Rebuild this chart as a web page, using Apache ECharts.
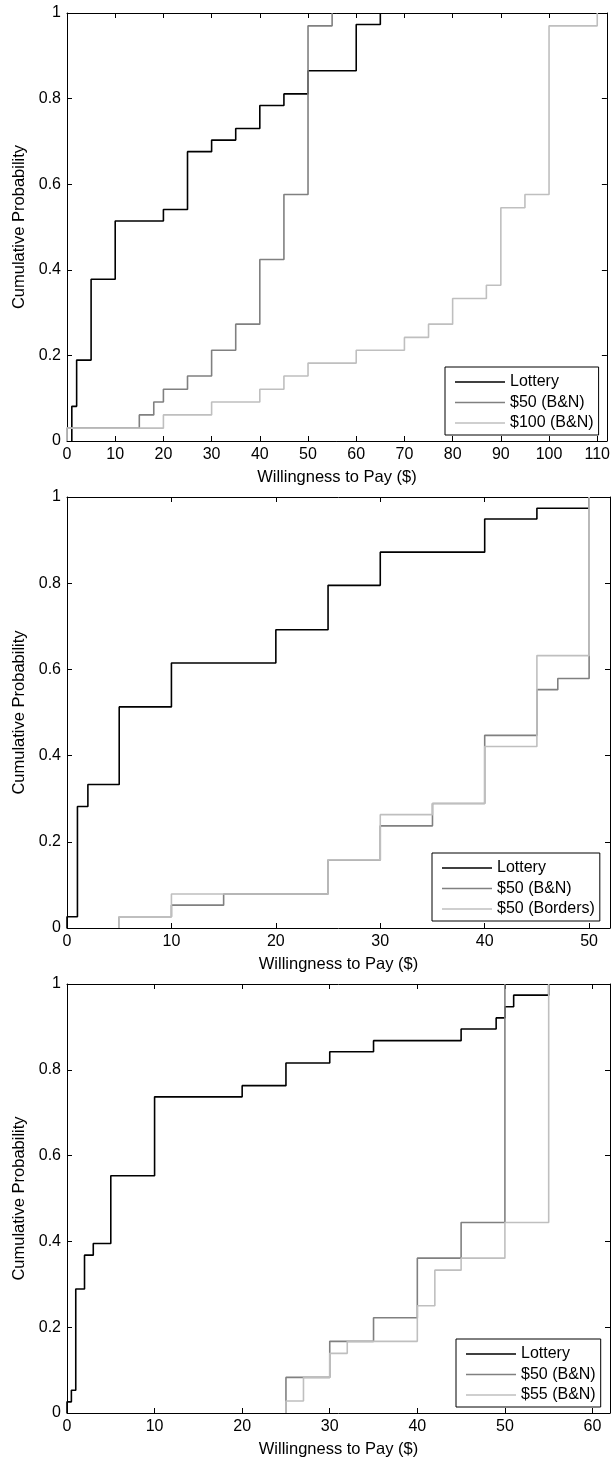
<!DOCTYPE html>
<html>
<head>
<meta charset="utf-8">
<title>Willingness to Pay - ECDF</title>
<script src="https://cdn.jsdelivr.net/npm/echarts@6/dist/echarts.min.js"></script>
<style>
  html, body { margin: 0; padding: 0; background: #fff; }
  #main { width: 613px; height: 1459px; }
</style>
</head>
<body>
<div id="main"></div>
<script>
// panel 1 : Lottery / $50 (B&N) / $100 (B&N)
var p1LotteryX = [1, 2, 5, 10, 20, 25, 30, 35, 40, 45, 50, 60, 65];
var p1LotteryY = [0.081, 0.189, 0.378, 0.514, 0.541, 0.676, 0.703, 0.730, 0.784, 0.811, 0.865, 0.973, 1];
var p1Bn50X = [0, 15, 18, 20, 25, 30, 35, 40, 45, 50, 55];
var p1Bn50Y = [0.030, 0.061, 0.091, 0.121, 0.152, 0.212, 0.273, 0.424, 0.576, 0.970, 1];
var p1Bn100X = [0, 20, 30, 40, 45, 50, 60, 70, 75, 80, 87, 90, 95, 100, 110];
var p1Bn100Y = [0.030, 0.061, 0.091, 0.121, 0.152, 0.182, 0.212, 0.242, 0.273, 0.333, 0.364, 0.545, 0.576, 0.970, 1];

// panel 2 : Lottery / $50 (B&N) / $50 (Borders)
var p2LotteryX = [0, 1, 2, 5, 10, 20, 25, 30, 40, 45, 50];
var p2LotteryY = [0.026, 0.282, 0.333, 0.513, 0.615, 0.692, 0.795, 0.872, 0.949, 0.974, 1];
var p2Bn50X = [5, 10, 15, 25, 30, 35, 40, 45, 47, 50];
var p2Bn50Y = [0.026, 0.053, 0.079, 0.158, 0.237, 0.289, 0.447, 0.553, 0.579, 1];
var p2Borders50X = [5, 10, 25, 30, 35, 40, 45, 50];
var p2Borders50Y = [0.026, 0.079, 0.158, 0.263, 0.289, 0.421, 0.632, 1];

// panel 3 : Lottery / $50 (B&N) / $55 (B&N)
var p3LotteryX = [0, 0.5, 1, 2, 3, 5, 10, 20, 25, 30, 35, 45, 49, 50, 51, 55];
var p3LotteryY = [0.026, 0.053, 0.289, 0.368, 0.395, 0.553, 0.737, 0.763, 0.816, 0.842, 0.868, 0.895, 0.921, 0.947, 0.974, 1];
var p3Bn50X = [25, 30, 35, 40, 45, 50];
var p3Bn50Y = [0.083, 0.167, 0.222, 0.361, 0.444, 1];
var p3Bn55X = [25, 27, 30, 32, 40, 42, 45, 50, 55];
var p3Bn55Y = [0.028, 0.083, 0.139, 0.167, 0.250, 0.333, 0.361, 0.444, 1];

var xMaxes = [112, 52, 62];

var FONT = 'Liberation Sans, Arial, Helvetica, sans-serif';
var BLACK = '#000000', DARK = '#808080', LIGHT = '#bfbfbf';

// ecdf style stairs : starts at (min, 0)
function stairs(xs, ys) {
  var out = [[xs[0], 0]];
  for (var i = 0; i < xs.length; i++) {
    out.push([xs[i], ys[i]]);
  }
  return out;
}

var panels = [
  { top: 13,  height: 428, names: ['Lottery', '$50 (B&N)', '$100 (B&N)'],
    data: [[p1LotteryX, p1LotteryY], [p1Bn50X, p1Bn50Y], [p1Bn100X, p1Bn100Y]],
    legend: { left: 445, top: 367 } },
  { top: 497, height: 431, names: ['Lottery', '$50 (B&N)', '$50 (Borders)'],
    data: [[p2LotteryX, p2LotteryY], [p2Bn50X, p2Bn50Y], [p2Borders50X, p2Borders50Y]],
    legend: { left: 432, top: 853 } },
  { top: 984, height: 431, names: ['Lottery', '$50 (B&N)', '$55 (B&N)'],
    data: [[p3LotteryX, p3LotteryY], [p3Bn50X, p3Bn50Y], [p3Bn55X, p3Bn55Y]],
    legend: { left: 456, top: 1339 } }
];
var colors = [BLACK, DARK, LIGHT];

var grid = [], xAxis = [], yAxis = [], series = [], legend = [];

panels.forEach(function (p, i) {
  grid.push({ left: 67, right: 1, top: p.top, height: p.height });

  var tickStyle = { show: true, inside: true, length: 5, lineStyle: { color: BLACK, width: 1 } };
  var lineStyle = { show: true, onZero: false, lineStyle: { color: BLACK, width: 1 } };

  // bottom axis with labels
  xAxis.push({
    type: 'value', gridIndex: i, position: 'bottom', min: 0, max: xMaxes[i], interval: 10,
    axisLine: lineStyle, axisTick: tickStyle, splitLine: { show: false },
    axisLabel: {
      color: BLACK, fontFamily: FONT, fontSize: 16, margin: 6,
      formatter: function (v) { return v % 10 === 0 ? String(v) : ''; }
    },
    name: 'Willingness to Pay ($)', nameLocation: 'middle', nameGap: 28,
    nameTextStyle: { color: BLACK, fontFamily: FONT, fontSize: 16.5 }
  });
  // top axis, box only
  xAxis.push({
    type: 'value', gridIndex: i, position: 'top', min: 0, max: xMaxes[i], interval: 10,
    axisLine: lineStyle, axisTick: tickStyle, axisLabel: { show: false }, splitLine: { show: false }
  });

  yAxis.push({
    type: 'value', gridIndex: i, position: 'left', min: 0, max: 1, interval: 0.2,
    axisLine: lineStyle, axisTick: tickStyle, splitLine: { show: false },
    axisLabel: { color: BLACK, fontFamily: FONT, fontSize: 16, margin: 6 },
    name: 'Cumulative Probability', nameLocation: 'middle', nameGap: 34,
    nameTextStyle: { color: BLACK, fontFamily: FONT, fontSize: 16.5 }
  });
  yAxis.push({
    type: 'value', gridIndex: i, position: 'right', min: 0, max: 1, interval: 0.2,
    axisLine: lineStyle, axisTick: tickStyle, axisLabel: { show: false }, splitLine: { show: false }
  });

  p.data.forEach(function (d, k) {
    series.push({
      name: p.names[k], type: 'line', step: 'end',
      xAxisIndex: 2 * i, yAxisIndex: 2 * i,
      data: stairs(d[0], d[1]),
      symbol: 'none', color: colors[k],
      lineStyle: { color: colors[k], width: 1.6 },
      z: 2 + k
    });
  });

  // plain line swatch, no marker
  legend.push({
    data: p.names, orient: 'vertical', left: p.legend.left, top: p.legend.top,
    icon: 'path://M0,0L50,0L50,1.6L0,1.6Z', symbolKeepAspect: true,
    itemWidth: 50, itemHeight: 14, itemGap: 4.5, itemTextGap: 5,
    padding: [7, 5, 4, 10], selectedMode: false,
    backgroundColor: '#ffffff', borderColor: BLACK, borderWidth: 1,
    textStyle: { color: BLACK, fontFamily: FONT, fontSize: 16, lineHeight: 14 }
  });
});

var myChart = echarts.init(document.getElementById('main'), null, { renderer: 'canvas' });
myChart.setOption({
  animation: false,
  backgroundColor: '#ffffff',
  grid: grid,
  xAxis: xAxis,
  yAxis: yAxis,
  legend: legend,
  series: series
});
</script>
</body>
</html>
